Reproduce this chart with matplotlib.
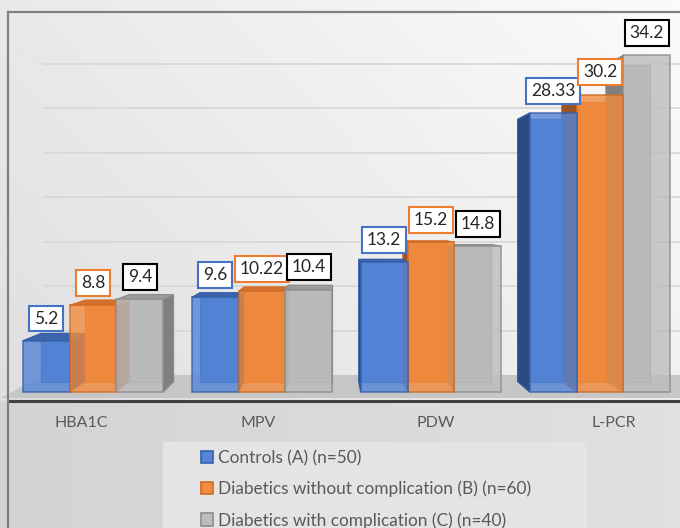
import numpy as np
import matplotlib.pyplot as plt
from matplotlib.patches import Polygon, Rectangle, Patch

plt.rcParams['font.family'] = ['Lato', 'DejaVu Sans']

categories = ['HBA1C', 'MPV', 'PDW', 'L-PCR']
series_names = ['Controls (A) (n=50)',
                'Diabetics without complication (B) (n=60)',
                'Diabetics with complication (C) (n=40)']
controls = [5.2, 9.6, 13.2, 28.33]
diab_no_comp = [8.8, 10.22, 15.2, 30.2]
diab_comp = [9.4, 10.4, 14.8, 34.2]
series_vals = [controls, diab_no_comp, diab_comp]
grid_vals = [5, 10, 15, 20, 25, 30, 35]

front_col = ['#5585d8', '#f28c40', '#bdbdbd']
back_col = ['#4a78c8', '#e07c35', '#ababab']
side_col = ['#2b4a85', '#9a5226', '#808080']
top_col = ['#3b64ad', '#d4702e', '#9c9c9c']
edge_col = ['#3560a8', '#d06a22', '#8c8c8c']
box_col = ['#4472c4', '#ed7d31', '#000000']

W, H = 680, 528


# pixel layout -> data units (category index on x, value on y)
def px2x(px):
    return (px - 93) / 169.0


def py2y(py):
    return (392 - py) / 9.85


vx, vy = px2x(330), py2y(218)  # vanishing point
t_bar, t_wall, t_front = 0.06, 0.098, -0.035


def proj(x, y, t):
    return x + t * (vx - x), y + t * (vy - y)


fig = plt.figure(figsize=(W / 100, H / 100), dpi=100)
ax = fig.add_axes([0, 0, 1, 1])
x_lo, x_hi = px2x(0), px2x(W)
y_lo, y_hi = py2y(H), py2y(0)
ax.set_xlim(x_lo, x_hi)
ax.set_ylim(y_lo, y_hi)
ax.axis('off')

# background gradient
gx = np.linspace(0, 1, 200)
gy = np.linspace(0, 1, 200)  # 0 = top
GX, GY = np.meshgrid(gx, gy)
upper = 0.985 - 0.07 * (1 - GX) - 0.04 * GY / 0.76
lower = 0.83 + 0.05 * GX
bg = np.where(GY < 401 / H, upper, lower)
ax.imshow(np.dstack([bg, bg, bg]), extent=(x_lo, x_hi, y_lo, y_hi),
          aspect='auto', zorder=0, interpolation='bilinear')

# back wall gridlines + left wall
xl = px2x(12)
for g in grid_vals:
    bx, by = proj(xl, g, t_wall)
    ax.plot([bx, x_hi], [by, by], color='#d8d8d8', lw=1.3, zorder=1)
    ax.plot([xl, bx], [g, by], color='#e4e4e4', lw=1.2, zorder=1)

# floor
fl = [proj(xl, 0, t_front), proj(x_hi + 1, 0, t_front),
      proj(x_hi + 1, 0, t_wall), proj(xl, 0, t_wall)]
ax.add_patch(Polygon(fl, closed=True, fc='#c6c6c6', ec='none', zorder=1))
ax.plot([px2x(8), x_hi], [py2y(401), py2y(401)], color='#404040', lw=2.2, zorder=2)

# border
ax.plot([px2x(8), px2x(8)], [py2y(12), y_lo], color='#7f7f7f', lw=1.6, zorder=10)
ax.plot([px2x(8), x_hi], [py2y(12), py2y(12)], color='#7f7f7f', lw=1.6, zorder=10)

# bars
w = 0.278
bars = []
for j, vals in enumerate(series_vals):
    for i, v in enumerate(vals):
        bars.append((j, i, v, i + (j - 1) * w))
bars.sort(key=lambda b: -abs(b[3] - vx))

for k, (j, i, v, cx) in enumerate(bars):
    x0, x1 = cx - w / 2, cx + w / 2
    z = 3 + k * 0.01
    fr = [(x0, 0), (x1, 0), (x1, v), (x0, v)]
    bk = [proj(px, py, t_bar) for px, py in fr]
    ax.add_patch(Polygon(bk, closed=True, fc=back_col[j], ec=edge_col[j],
                         lw=0.9, zorder=z))
    if x1 < vx:
        sd = [fr[1], fr[2], bk[2], bk[1]]
    else:
        sd = [fr[0], fr[3], bk[3], bk[0]]
    ax.add_patch(Polygon(sd, closed=True, fc=side_col[j], ec=edge_col[j],
                         lw=0.8, zorder=z + 0.001))
    if v < vy:
        tp = [fr[3], fr[2], bk[2], bk[3]]
        ax.add_patch(Polygon(tp, closed=True, fc=top_col[j], ec=edge_col[j],
                             lw=0.8, zorder=z + 0.002))
    ax.add_patch(Polygon(fr, closed=True, fc=front_col[j], ec=edge_col[j],
                         lw=1.2, alpha=0.8, zorder=z + 0.003))

# data labels
for j, vals in enumerate(series_vals):
    for i, v in enumerate(vals):
        cx = i + (j - 1) * w
        ax.annotate(f'{v:g}', xy=(cx, v), xytext=(0, 16), textcoords='offset points',
                    ha='center', va='center', fontsize=12.5, color='#262626', zorder=20,
                    bbox=dict(boxstyle='square,pad=0.28', fc='white',
                              ec=box_col[j], lw=1.5))

# category labels
for i, c in enumerate(categories):
    lx, _ = proj(i, 0, -0.05)
    ax.text(lx, py2y(423), c, ha='center', va='center', fontsize=11.5,
            color='#595959', zorder=5)

# legend box
ax.add_patch(Rectangle((px2x(163), py2y(H + 5)), px2x(587) - px2x(163),
                       py2y(442) - py2y(H + 5), fc='#e4e4e4', ec='none', zorder=1.5))
handles = [Patch(fc=front_col[j], ec=edge_col[j], lw=1.2) for j in range(3)]
ax.legend(handles, series_names, loc='upper left',
          bbox_to_anchor=(201 / W, 1 - 450 / H), frameon=False, fontsize=12.4,
          labelcolor='#595959', handlelength=0.7, handleheight=0.7,
          handletextpad=0.3, labelspacing=0.85, borderaxespad=0, borderpad=0)

fig.savefig('out.png', dpi=100)
